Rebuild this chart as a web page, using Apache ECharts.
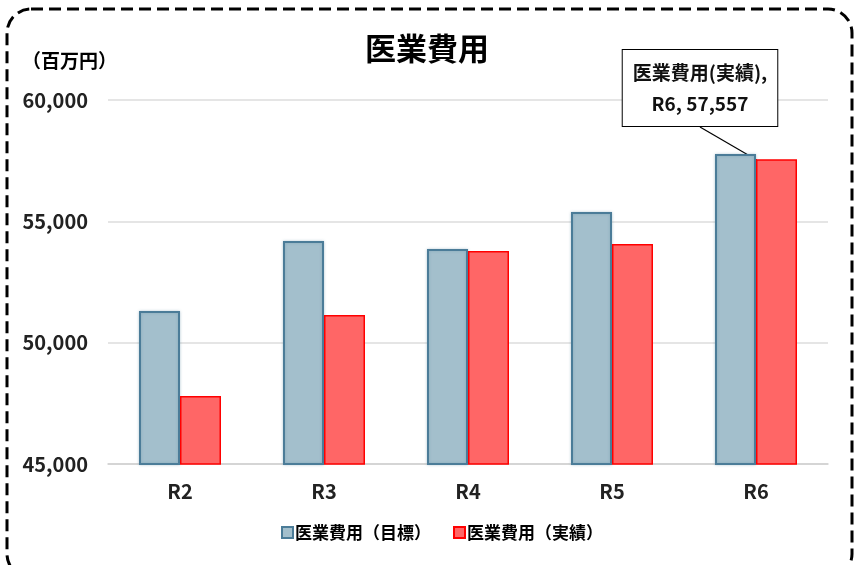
<!DOCTYPE html>
<html>
<head>
<meta charset="utf-8">
<script src="https://cdn.jsdelivr.net/npm/echarts@6/dist/echarts.min.js"></script>
<style>html,body{margin:0;padding:0;background:#fff;}#c{width:854px;height:565px;}</style>
</head>
<body>
<div id="c"></div>
<script>
const categories = ['R2', 'R3', 'R4', 'R5', 'R6'];
const targetValues = [51305, 54190, 53860, 55385, 57775];
const actualValues = [47800, 51140, 53780, 54070, 57557];
const yTicks = [45000, 50000, 55000, 60000];
const seriesNames = ['医業費用（目標）', '医業費用（実績）'];
const titleText = '医業費用';
const unitText = '（百万円）';
const calloutIndex = 4;

const FONT = '"Noto Sans CJK JP", "Noto Sans", sans-serif';
const chart = echarts.init(document.getElementById('c'), null, {renderer: 'canvas'});

const actualData = actualValues.map((v, i) => {
  if (i !== calloutIndex) return v;
  return {
    value: v,
    label: {
      show: true,
      formatter: function (p) {
        return '医業費用(実績),\n' + p.name + ', ' + p.value.toLocaleString('en-US');
      },
      backgroundColor: '#fff',
      borderColor: '#000',
      borderWidth: 1,
      padding: [7, 10, 7, 10],
      lineHeight: 31,
      fontSize: 19,
      fontWeight: 'bold',
      fontFamily: FONT,
      color: '#111'
    },
    labelLine: { show: true, lineStyle: { color: '#000', width: 1.2 } }
  };
});

chart.setOption({
  animation: false,
  title: [
    { text: titleText, left: 'center', top: 28,
      textStyle: { fontSize: 31, fontWeight: 'bold', fontFamily: FONT, color: '#000' } },
    { text: unitText, left: 17, top: 46,
      textStyle: { fontSize: 19, fontWeight: 'bold', fontFamily: FONT, color: '#000' } }
  ],
  graphic: [{
    type: 'rect', silent: true, z: 100,
    shape: { x: 7, y: 9, width: 845, height: 569, r: 24 },
    style: { fill: 'none', stroke: '#000', lineWidth: 3, lineDash: [12, 6] }
  }],
  legend: {
    bottom: 19, left: 276,
    itemWidth: 11, itemHeight: 11, itemGap: 22, icon: 'rect',
    textStyle: { fontSize: 17, fontWeight: 'bold', fontFamily: FONT, color: '#000', padding: [0, 0, 0, -3] },
    data: seriesNames
  },
  grid: { left: 108, right: 26, top: 100, bottom: 101, containLabel: false },
  xAxis: {
    type: 'category', data: categories,
    axisLine: { lineStyle: { color: '#d0d0d0', width: 1.5 } },
    axisTick: { show: false },
    axisLabel: { margin: 17, fontSize: 20, fontWeight: 'bold', fontFamily: FONT, color: '#222' }
  },
  yAxis: {
    type: 'value', min: yTicks[0], max: yTicks[yTicks.length - 1], interval: yTicks[1] - yTicks[0],
    axisLine: { show: false }, axisTick: { show: false },
    splitLine: { lineStyle: { color: '#dcdcdc', width: 1.5 } },
    axisLabel: {
      margin: 20, fontSize: 20, fontWeight: 'bold', fontFamily: FONT, color: '#222',
      formatter: v => v.toLocaleString('en-US')
    }
  },
  series: [
    {
      name: seriesNames[0], type: 'bar', data: targetValues,
      barWidth: 41, barGap: '0%',
      itemStyle: { color: '#a3bfcc', borderColor: '#4b7c98', borderWidth: 2,
        shadowColor: 'rgba(75,124,152,0.35)', shadowBlur: 3 }
    },
    {
      name: seriesNames[1], type: 'bar', data: actualData,
      barWidth: 41, barGap: '0%',
      itemStyle: { color: '#ff6666', borderColor: '#ff0000', borderWidth: 1.5 },
      labelLayout: function (p) {
        if (p.dataIndex === calloutIndex) {
          return { x: 700, y: 88, align: 'center', verticalAlign: 'middle' };
        }
        return {};
      }
    }
  ]
});
</script>
</body>
</html>
